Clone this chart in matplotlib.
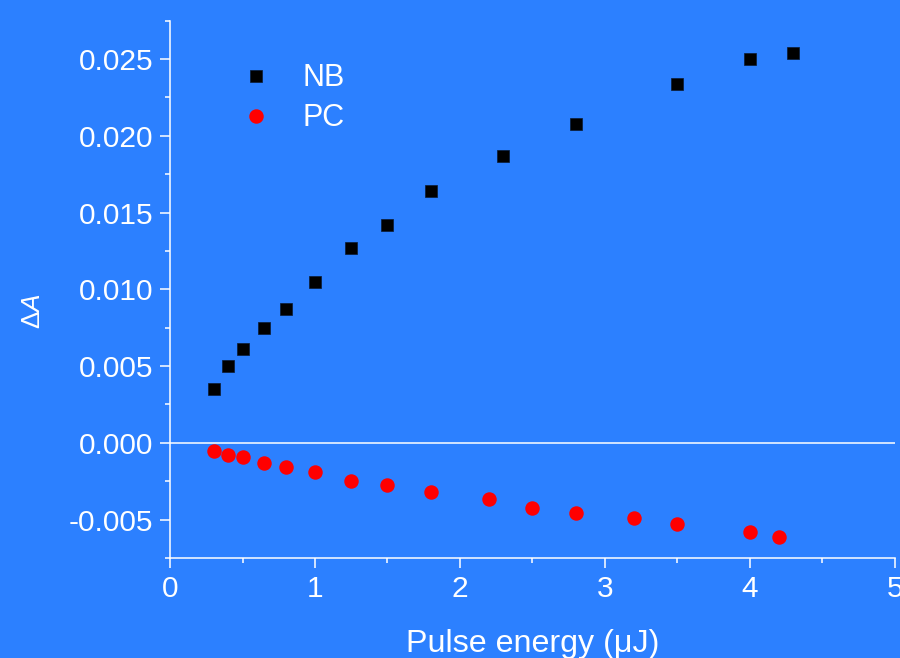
import numpy as np
import matplotlib
matplotlib.use('Agg')
import matplotlib.pyplot as plt
from matplotlib.ticker import MultipleLocator, FormatStrFormatter

plt.rcParams['font.family'] = ['Liberation Sans', 'DejaVu Sans']
plt.rcParams['mathtext.fontset'] = 'custom'
plt.rcParams['mathtext.rm'] = 'Liberation Sans'
plt.rcParams['mathtext.it'] = 'Liberation Sans:italic'

# data
nb_energy = [0.3, 0.4, 0.5, 0.65, 0.8, 1.0, 1.25, 1.5, 1.8, 2.3, 2.8, 3.5, 4.0, 4.3]
nb_dA = [0.0035, 0.0050, 0.0061, 0.0075, 0.0087, 0.0105, 0.0127, 0.0142,
         0.0164, 0.0187, 0.0208, 0.0234, 0.0250, 0.0254]
pc_energy = [0.3, 0.4, 0.5, 0.65, 0.8, 1.0, 1.25, 1.5, 1.8, 2.2, 2.5, 2.8,
             3.2, 3.5, 4.0, 4.2]
pc_dA = [-0.00056, -0.00082, -0.00095, -0.00128, -0.0016, -0.00193, -0.00251,
         -0.00277, -0.00323, -0.00368, -0.00427, -0.00459, -0.00492, -0.0053,
         -0.00582, -0.00615]

bg = '#2c80ff'
fg = 'white'

fig = plt.figure(figsize=(9, 6.58), dpi=100, facecolor=bg)
ax = fig.add_axes([0.1889, 0.152, 0.8055, 0.8165])
ax.set_facecolor(bg)

ax.axhline(0, color=fg, lw=1.1, zorder=1)
ax.plot(nb_energy, nb_dA, 's', color='black', ms=8.6, mec='#0a1a33', mew=0.5, label='NB', zorder=3)
ax.plot(pc_energy, pc_dA, 'o', color='#ff0000', ms=9.4, mec='#ff0000', label='PC', zorder=3)

ax.set_xlim(0, 5)
ax.set_ylim(-0.0075, 0.0275)
ax.xaxis.set_major_locator(MultipleLocator(1))
ax.xaxis.set_minor_locator(MultipleLocator(0.5))
ax.yaxis.set_major_locator(MultipleLocator(0.005))
ax.yaxis.set_minor_locator(MultipleLocator(0.0025))
ax.yaxis.set_major_formatter(FormatStrFormatter('%.3f'))

for s in ['top', 'right']:
    ax.spines[s].set_visible(False)
for s in ['left', 'bottom']:
    ax.spines[s].set_color(fg)
    ax.spines[s].set_linewidth(1.1)

ax.tick_params(which='both', direction='out', colors=fg, width=1.1, labelsize=21.5)
ax.tick_params(which='major', length=7, pad=5)
ax.tick_params(which='minor', length=3.6)

ax.set_xlabel('Pulse energy (μJ)', color=fg, fontsize=23.2, labelpad=19)
ax.set_ylabel(r'$\Delta\mathit{A}$', color=fg, fontsize=19)
ax.yaxis.set_label_coords(-0.172, 0.46)

leg = ax.legend(loc='upper left', bbox_to_anchor=(0.059, 0.972), frameon=False,
                fontsize=22, handlelength=1.0, handletextpad=1.05,
                labelspacing=0.33, numpoints=1)
for t in leg.get_texts():
    t.set_color(fg)

fig.savefig('out.png', dpi=100, facecolor=bg)
